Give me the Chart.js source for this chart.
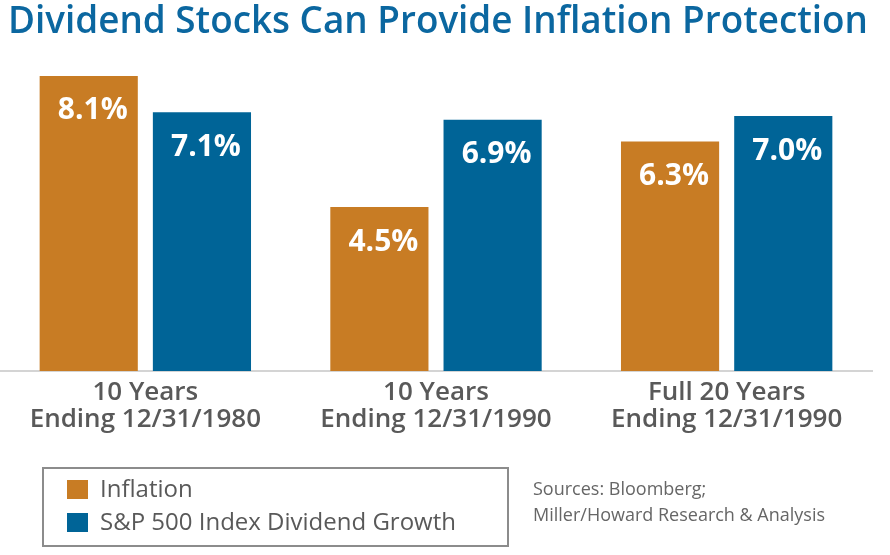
<!DOCTYPE html>
<html>
<head>
<meta charset="utf-8">
<script src="https://cdn.jsdelivr.net/npm/chart.js@4/dist/chart.umd.min.js"></script>
<style>
  html, body { margin: 0; padding: 0; background: #fff; }
  #wrap { width: 890px; height: 555px; position: relative; }
</style>
</head>
<body>
<div id="wrap"><canvas id="chart" width="890" height="555"></canvas></div>
<script>
    const categories = [
        ['10 Years', 'Ending 12/31/1980'],
        ['10 Years', 'Ending 12/31/1990'],
        ['Full 20 Years', 'Ending 12/31/1990']
    ];
    const inflation = [8.1, 4.5, 6.3];
    const dividendGrowth = [7.1, 6.9, 7.0];
    const seriesNames = ['Inflation', 'S&P 500 Index Dividend Growth'];
    const sourceLines = ['Sources: Bloomberg;', 'Miller/Howard Research & Analysis'];
    const titleText = 'Dividend Stocks Can Provide Inflation Protection';

    const orange = '#c87c24';
    const blue = '#006497';
    const grey = '#595959';

    // title, value labels, legend box and sources drawn on the canvas
    const extras = {
        id: 'extras',
        afterDraw(chart) {
            const ctx = chart.ctx;
            ctx.save();

            // title, squeezed to the reference width
            ctx.font = '600 38px "Open Sans"';
            ctx.fillStyle = '#0b67a0';
            ctx.textBaseline = 'alphabetic';
            ctx.textAlign = 'left';
            const tw = ctx.measureText(titleText).width;
            ctx.save();
            ctx.translate(8, 33);
            ctx.scale(860 / tw, 1);
            ctx.fillText(titleText, 0, 0);
            ctx.restore();

            // value labels inside bars
            ctx.font = 'bold 30px "Open Sans"';
            ctx.fillStyle = '#fff';
            ctx.textAlign = 'center';
            ctx.textBaseline = 'middle';
            chart.data.datasets.forEach((ds, i) => {
                chart.getDatasetMeta(i).data.forEach((bar, j) => {
                    ctx.fillText(ds.data[j].toFixed(1) + '%', bar.x + 4, bar.y + 35);
                });
            });

            // legend box
            ctx.strokeStyle = '#8c8c8c';
            ctx.lineWidth = 2;
            ctx.strokeRect(43, 468, 465, 78);
            ctx.font = '24px "Open Sans"';
            ctx.textAlign = 'left';
            chart.data.datasets.forEach((ds, i) => {
                const y = 490 + i * 33;
                ctx.fillStyle = ds.backgroundColor;
                ctx.fillRect(67, y - 10, 21, 19);
                ctx.fillStyle = grey;
                ctx.fillText(ds.label, 100, y);
            });

            // sources
            ctx.font = '18px "Open Sans"';
            ctx.fillStyle = '#666';
            sourceLines.forEach((s, i) => ctx.fillText(s, 533, 490 + i * 26));

            ctx.restore();
        }
    };

    new Chart(document.getElementById('chart'), {
        type: 'bar',
        data: {
            labels: categories,
            datasets: [
                { label: seriesNames[0], data: inflation, backgroundColor: orange },
                { label: seriesNames[1], data: dividendGrowth, backgroundColor: blue }
            ]
        },
        options: {
            responsive: false,
            animation: false,
            layout: { padding: { top: 65, left: 0, right: 18, bottom: 0 } },
            datasets: {
                bar: { categoryPercentage: 0.779, barPercentage: 0.867 }
            },
            plugins: {
                legend: { display: false },
                title: { display: false },
                tooltip: { enabled: false }
            },
            scales: {
                y: {
                    display: false,
                    min: 0,
                    max: 8.4
                },
                x: {
                    afterFit: (s) => { s.height = 184; },
                    grid: { display: false, drawTicks: false },
                    border: { display: true, color: '#d4d4d4', width: 2 },
                    ticks: {
                        color: grey,
                        padding: 8,
                        font: { family: '"Open Sans"', size: 26, weight: '600', lineHeight: 1.04 }
                    }
                }
            }
        },
        plugins: [extras]
    });
</script>
</body>
</html>
